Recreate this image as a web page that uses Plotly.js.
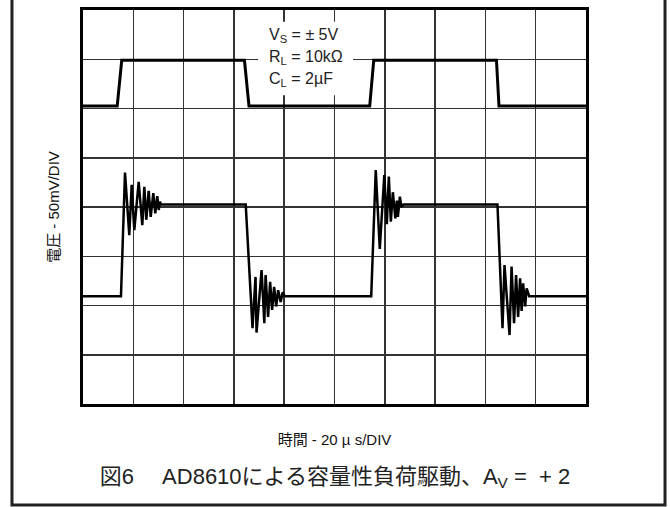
<!DOCTYPE html>
<html>
<head>
<meta charset="utf-8">
<script src="https://cdn.plot.ly/plotly-3.0.1.min.js"></script>
<style>html,body{margin:0;padding:0;background:#fff;}#chart{width:670px;height:507px;}</style>
</head>
<body>
<div id="chart"></div>
<script>
// Time axis in divisions (20 µs/DIV), voltage in divisions (50 mV/DIV)
const inputTime = [0, 0.68, 0.77, 3.21, 3.30, 5.70, 5.78, 8.22, 8.27, 10];
const inputLevel = [6.05, 6.05, 6.98, 6.98, 6.05, 6.05, 6.98, 6.98, 6.05, 6.05];

const outputTime = [
  0, 0.755, 0.835, 0.92, 0.968, 1.02, 1.107, 1.179, 1.219, 1.258, 1.306, 1.346, 1.398, 1.437, 1.477, 1.505, 1.531, 1.55,
  3.235, 3.37, 3.43, 3.45, 3.55, 3.605, 3.63, 3.68, 3.72, 3.76, 3.80, 3.84, 3.88, 3.93, 3.97, 4.01,
  5.73, 5.82, 5.90, 5.99, 6.04, 6.08, 6.12, 6.16, 6.21, 6.24, 6.26, 6.30, 6.33, 6.37,
  8.24, 8.34, 8.38, 8.48, 8.52, 8.57, 8.61, 8.65, 8.69, 8.72, 8.75, 8.79, 8.82, 8.87, 10
];
const outputLevel = [
  2.19, 2.19, 4.70, 3.43, 4.45, 3.53, 4.51, 3.63, 4.41, 3.74, 4.33, 3.80, 4.28, 3.87, 4.22, 3.94, 4.11, 4.05,
  4.05, 1.54, 2.58, 1.45, 2.72, 1.64, 2.62, 1.77, 2.48, 1.91, 2.38, 1.98, 2.31, 2.07, 2.27, 2.19,
  2.19, 4.75, 3.15, 4.65, 3.65, 4.62, 3.70, 4.30, 3.77, 4.13, 3.80, 4.21, 4.00, 4.05,
  4.05, 1.54, 2.82, 1.40, 2.79, 1.64, 2.62, 1.77, 2.55, 1.89, 2.45, 1.98, 2.35, 2.19, 2.19
];

const conditionLines = ['V<sub>S</sub> = ± 5V', 'R<sub>L</sub> = 10kΩ', 'C<sub>L</sub> = 2µF'];
const xTitle = '時間 - 20 µ s/DIV';
const yTitle = '電圧 - 50mV/DIV';
const caption = '図6　 AD8610による容量性負荷駆動、A<sub>V</sub> =  + 2';

const FONT = 'Liberation Sans, Arial, Noto Sans CJK JP, sans-serif';

const traces = [
  {x: inputTime, y: inputLevel, mode: 'lines', line: {color: '#000', width: 3}, hoverinfo: 'skip', showlegend: false},
  {x: outputTime, y: outputLevel, mode: 'lines', line: {color: '#000', width: 2.5}, hoverinfo: 'skip', showlegend: false}
];

const axisCommon = {
  showgrid: true, gridcolor: '#333', gridwidth: 1.5, zeroline: false,
  showticklabels: false, ticks: '', showline: true, mirror: true,
  linecolor: '#000', linewidth: 3, dtick: 1, fixedrange: true
};

const lineY = [7.49, 7.03, 6.58];
const annotations = conditionLines.map((t, i) => ({
  x: 3.66, y: lineY[i], xref: 'x', yref: 'y', text: t, showarrow: false,
  xanchor: 'left', yanchor: 'middle', align: 'left',
  font: {size: 16, family: FONT, color: '#222'}
}));

const layout = {
  width: 670, height: 507,
  margin: {l: 83, r: 84, t: 10, b: 103},
  paper_bgcolor: '#fff', plot_bgcolor: '#fff',
  font: {family: FONT, color: '#222'},
  title: {text: caption, font: {size: 22, family: FONT, color: '#222'}, x: 0.5, xref: 'container', xanchor: 'center', y: 0.061, yref: 'container', yanchor: 'middle'},
  xaxis: Object.assign({}, axisCommon, {range: [0, 10], title: {text: xTitle, font: {size: 15, family: FONT, color: '#111'}, standoff: 29}}),
  yaxis: Object.assign({}, axisCommon, {range: [0, 8], title: {text: yTitle, font: {size: 15, family: FONT, color: '#111'}, standoff: 17}}),
  annotations: annotations,
  shapes: [
    {type: 'rect', xref: 'x', yref: 'y', x0: 3.48, x1: 5.37, y0: 6.27, y1: 7.76,
     fillcolor: '#fff', line: {width: 0}, layer: 'above'},
    {type: 'path', xref: 'paper', yref: 'paper',
     path: 'M -0.1412 1.2 L -0.1412 -0.2563 L 1.1571 -0.2563 L 1.1571 1.2',
     line: {color: '#222', width: 3}}
  ]
};

Plotly.newPlot('chart', traces, layout, {staticPlot: true, displayModeBar: false});
</script>
</body>
</html>
